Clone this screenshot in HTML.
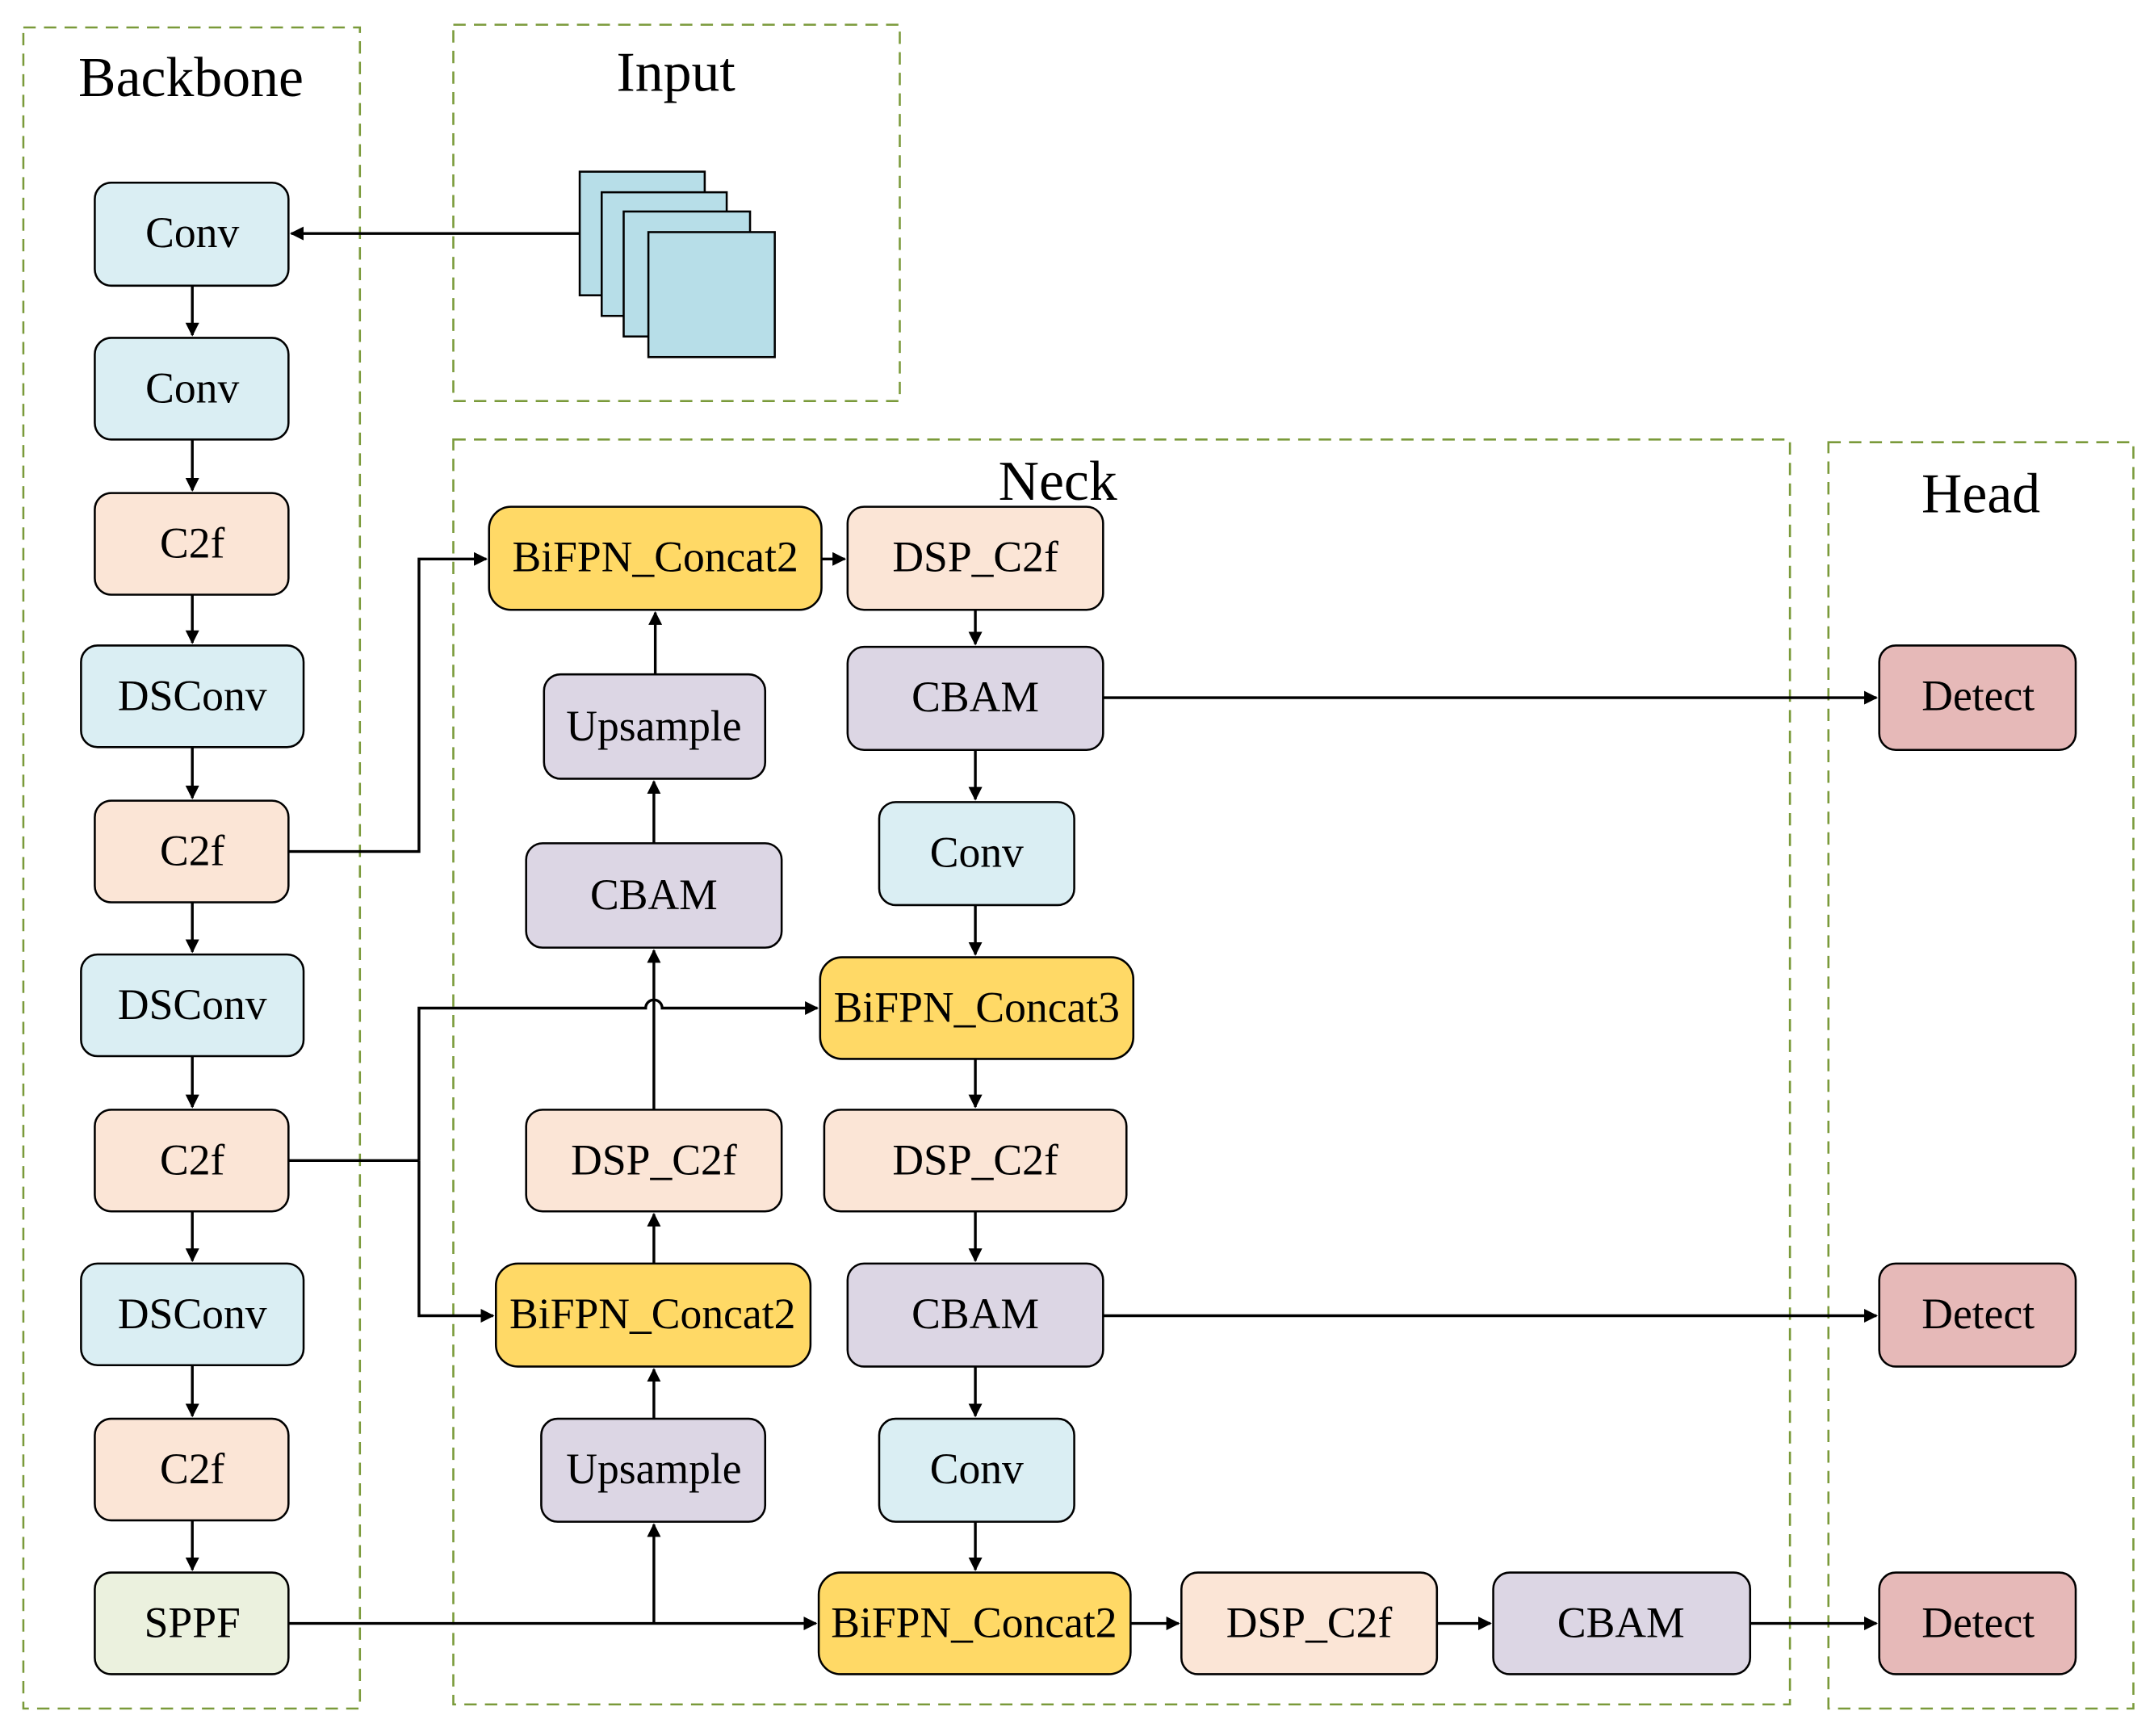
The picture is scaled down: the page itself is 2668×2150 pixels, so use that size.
<!DOCTYPE html>
<html><head><style>html,body{margin:0;padding:0;background:#fff}svg{display:block}</style></head>
<body>
<svg width="2668" height="2150" viewBox="0 0 1568 1264" preserveAspectRatio="none" xmlns="http://www.w3.org/2000/svg" font-family="'Liberation Serif',serif">
<defs><marker id="a" markerWidth="10" markerHeight="10" refX="9" refY="5" orient="auto" markerUnits="userSpaceOnUse"><path d="M0,0 L10,5 L0,10 z" fill="#000"/></marker></defs>
<g fill="none" stroke="#7a9a3a" stroke-width="1.5" stroke-dasharray="9,6">
<rect x="17" y="20" width="245" height="1224"/>
<rect x="330" y="18" width="325" height="274"/>
<rect x="330" y="320" width="973" height="921"/>
<rect x="1331" y="322" width="222" height="922"/>
</g>
<g font-size="41" text-anchor="middle"><text x="139" y="70">Backbone</text><text x="492" y="66">Input</text><text x="770" y="364">Neck</text><text x="1442" y="373">Head</text></g>
<g stroke="#000" stroke-width="1.5" fill="#b7dee8">
<rect x="422" y="125" width="91" height="90"/><rect x="438" y="140" width="91" height="90"/><rect x="454" y="154" width="92" height="91"/><rect x="472" y="169" width="92" height="91"/>
</g>
<g stroke="#000" stroke-width="2" fill="none" marker-end="url(#a)">
<path d="M422,170 H212"/>
<path d="M140,208 V244"/><path d="M140,320 V357"/><path d="M140,433 V468"/><path d="M140,544 V581"/><path d="M140,657 V693"/><path d="M140,769 V806"/><path d="M140,882 V918"/><path d="M140,994 V1031"/><path d="M140,1107 V1143"/>
<path d="M210,620 H305 V407 H354"/>
<path d="M305,845 V734 H470 a6,6 0 0 1 12,0 H595"/>
<path d="M305,845 V958 H359"/>
<path d="M210,1182 H594"/>
<path d="M476,1182 V1110"/><path d="M476,1033 V997"/><path d="M476,920 V884"/><path d="M476,808 V692"/><path d="M476,614 V569"/><path d="M477,491 V446"/>
<path d="M598,407 H615"/>
<path d="M710,444 V469"/><path d="M710,546 V582"/><path d="M710,659 V695"/><path d="M710,771 V806"/><path d="M710,882 V918"/><path d="M710,995 V1031"/><path d="M710,1108 V1143"/>
<path d="M803,508 H1366"/><path d="M803,958 H1366"/>
<path d="M823,1182 H858"/><path d="M1046,1182 H1085"/><path d="M1274,1182 H1366"/>
</g>
<path d="M210,845 H305" stroke="#000" stroke-width="2"/>
<g stroke="#000" stroke-width="1.5" font-size="31.5" text-anchor="middle">
<g fill="#daeef3"><rect x="69" y="133" width="141" height="75" rx="12"/><rect x="69" y="246" width="141" height="74" rx="12"/><rect x="59" y="470" width="162" height="74" rx="12"/><rect x="59" y="695" width="162" height="74" rx="12"/><rect x="59" y="920" width="162" height="74" rx="12"/><rect x="640" y="584" width="142" height="75" rx="12"/><rect x="640" y="1033" width="142" height="75" rx="12"/></g>
<g fill="#fbe5d6"><rect x="69" y="359" width="141" height="74" rx="12"/><rect x="69" y="583" width="141" height="74" rx="12"/><rect x="69" y="808" width="141" height="74" rx="12"/><rect x="69" y="1033" width="141" height="74" rx="12"/><rect x="617" y="369" width="186" height="75" rx="12"/><rect x="383" y="808" width="186" height="74" rx="12"/><rect x="600" y="808" width="220" height="74" rx="12"/><rect x="860" y="1145" width="186" height="74" rx="12"/></g>
<rect x="69" y="1145" width="141" height="74" rx="12" fill="#ebf1de"/>
<g fill="#ffd966"><rect x="356" y="369" width="242" height="75" rx="16"/><rect x="597" y="697" width="228" height="74" rx="16"/><rect x="361" y="920" width="229" height="75" rx="16"/><rect x="596" y="1145" width="227" height="74" rx="16"/></g>
<g fill="#dcd6e4"><rect x="396" y="491" width="161" height="76" rx="12"/><rect x="617" y="471" width="186" height="75" rx="12"/><rect x="383" y="614" width="186" height="76" rx="12"/><rect x="617" y="920" width="186" height="75" rx="12"/><rect x="394" y="1033" width="163" height="75" rx="12"/><rect x="1087" y="1145" width="187" height="74" rx="12"/></g>
<g fill="#e6b9b8"><rect x="1368" y="470" width="143" height="76" rx="12"/><rect x="1368" y="920" width="143" height="75" rx="12"/><rect x="1368" y="1145" width="143" height="74" rx="12"/></g>
<g stroke="none" fill="#000">
<text x="140" y="180">Conv</text><text x="140" y="293">Conv</text><text x="140" y="406">C2f</text><text x="140" y="517">DSConv</text><text x="140" y="630">C2f</text><text x="140" y="742">DSConv</text><text x="140" y="855">C2f</text><text x="140" y="967">DSConv</text><text x="140" y="1080">C2f</text><text x="140" y="1192">SPPF</text>
<text x="477" y="416">BiFPN_Concat2</text><text x="710" y="416">DSP_C2f</text><text x="476" y="539">Upsample</text><text x="710" y="518">CBAM</text><text x="476" y="662">CBAM</text><text x="711" y="631">Conv</text><text x="711" y="744">BiFPN_Concat3</text><text x="476" y="855">DSP_C2f</text><text x="710" y="855">DSP_C2f</text><text x="475" y="967">BiFPN_Concat2</text><text x="710" y="967">CBAM</text><text x="476" y="1080">Upsample</text><text x="711" y="1080">Conv</text><text x="709" y="1192">BiFPN_Concat2</text><text x="953" y="1192">DSP_C2f</text><text x="1180" y="1192">CBAM</text>
<text x="1440" y="517">Detect</text><text x="1440" y="967">Detect</text><text x="1440" y="1192">Detect</text>
</g>
</g>
</svg>
</body></html>
